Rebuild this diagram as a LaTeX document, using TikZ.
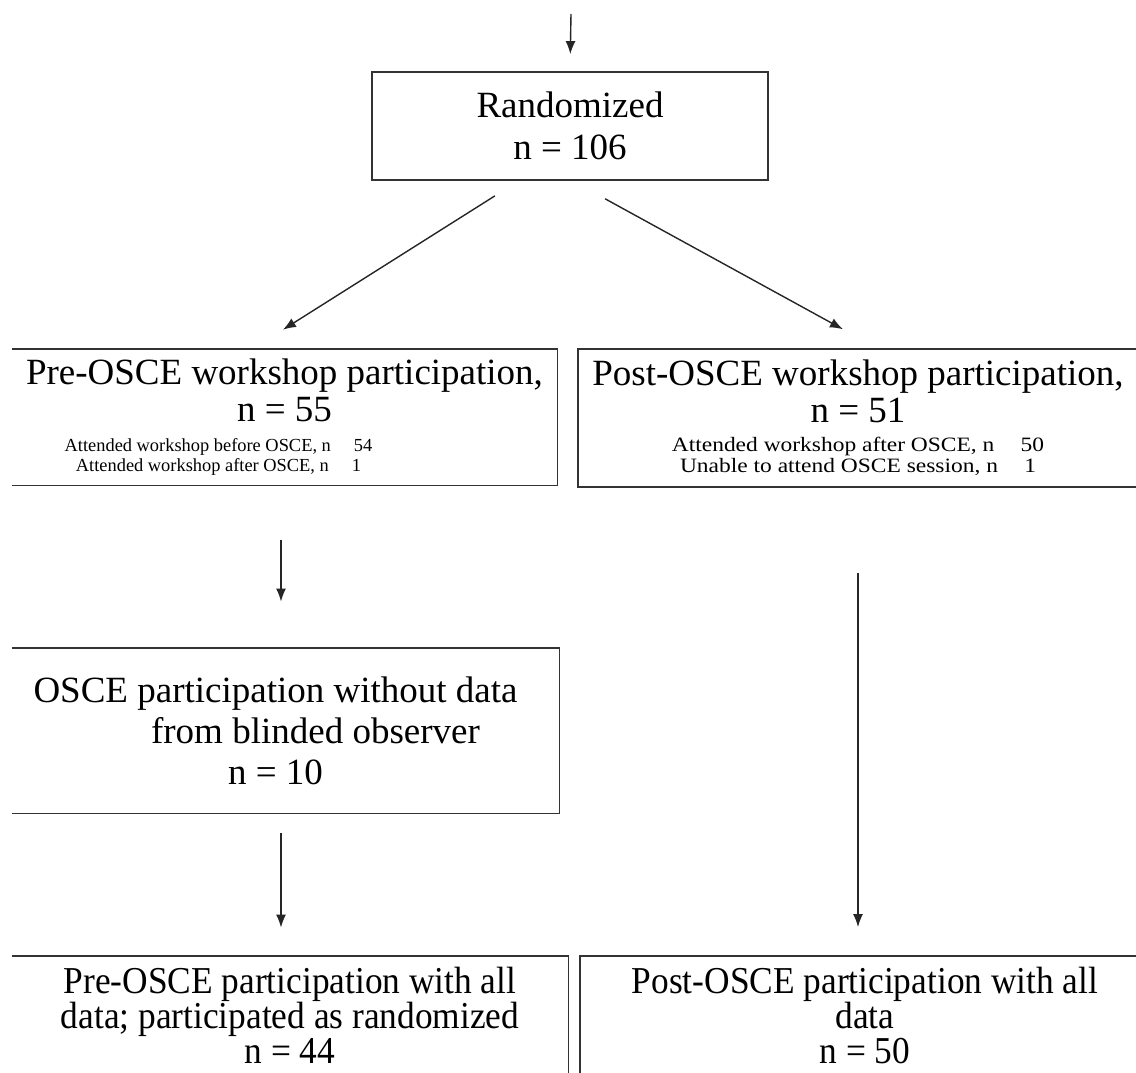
\documentclass[tikz,border=0pt]{standalone}
\usepackage{fontspec}
\setmainfont{Liberation Serif}
\newfontfamily\narrowserif[FakeStretch=0.93]{Liberation Serif}
\newfontfamily\wideserif[FakeStretch=1.15]{Liberation Serif}
\usetikzlibrary{arrows.meta}
\newcommand{\bigtxt}{\fontsize{18.5}{21}\selectfont}
\newcommand{\smalltxt}{\fontsize{9.2}{10}\selectfont}
\newcommand{\widesmalltxt}{\wideserif\fontsize{10.2}{10}\selectfont}
\newcommand{\narrowtxt}{\narrowserif\fontsize{19}{17.5}\selectfont}
\tikzset{
  box/.style={draw=black!80, line width=0.9pt, align=center, inner sep=0pt},
  openbox/.style={align=center, inner sep=0pt},
  edge/.style={draw=black!80, line width=0.9pt},
  arr/.style={-{Latex[length=6.5pt,width=5pt]}, line width=0.7pt, black!85},
}
\begin{document}
\begin{tikzpicture}[x=0.5pt, y=-0.5pt]
\clip (0,0) rectangle (1136,1072);
\coordinate (start) at (571,14);
\node[box, minimum width=198pt, minimum height=54pt, font=\bigtxt] (rand) at (570,126) {Randomized\\ n = 106};
\node[openbox, minimum width=272.5pt, minimum height=68pt, font=\bigtxt] (pre) at (284.5,417) {Pre-OSCE workshop participation,\\[-2.5pt] n = 55\\[-6pt] \smalltxt Attended workshop before OSCE, n \quad 54\makebox[66pt]{}\\[-11pt] \smalltxt Attended workshop after OSCE, n \quad 1\makebox[66pt]{}};
\node[box, minimum width=280pt, minimum height=69pt, font=\bigtxt] (post) at (858,418) {Post-OSCE workshop participation,\\[-2.5pt] n = 51\\[-6.5pt] \widesmalltxt Attended workshop after OSCE, n \quad 50\\[-10.5pt] \widesmalltxt Unable to attend OSCE session, n \quad 1};
\node[openbox, minimum width=273.5pt, minimum height=82.5pt, font=\bigtxt] (osce) at (285.5,730.5) {OSCE participation without data\makebox[10pt]{}\\[-0.5pt] \makebox[40pt]{}from blinded observer\makebox[10pt]{}\\[-0.5pt] n = 10\makebox[10pt]{}};
\node[openbox, minimum width=278pt, minimum height=59pt, font=\narrowtxt] (preall) at (290,1015) {Pre-OSCE participation with all\\ data; participated as randomized\\ n = 44};
\node[box, minimum width=285pt, minimum height=59pt, font=\narrowtxt] (postall) at (865,1015) {Post-OSCE participation with all\\ data\\ n = 50};
% boxes on the left are open on their left side
\draw[edge] (pre.north west) -- (pre.north east) -- (pre.south east) -- (pre.south west);
\draw[edge] (osce.north west) -- (osce.north east) -- (osce.south east) -- (osce.south west);
\draw[edge] (preall.north west) -- (preall.north east) -- (preall.south east) -- (preall.south west);
\draw[arr, shorten >=8.5pt] (start) -- (rand.north);
\draw[arr, shorten <=14pt, shorten >=17.7pt] ([xshift=-25.7pt]rand.south) -- ([xshift=-15.75pt]pre.north);
\draw[arr, shorten <=18.6pt, shorten >=19.6pt] ([xshift=1.25pt]rand.south) -- ([xshift=9.65pt]post.north);
\draw[arr, shorten <=27.5pt, shorten >=23pt] ([xshift=-1.75pt]pre.south) -- ([xshift=-1.75pt]pre.south |- osce.north);
\draw[arr, shorten <=10pt, shorten >=14pt] ([xshift=-2.25pt]osce.south) -- ([xshift=-2.25pt]osce.south |- preall.north);
\draw[arr, shorten <=42.5pt, shorten >=14pt] (post.south) -- (post.south |- postall.north);
\end{tikzpicture}
\end{document}
